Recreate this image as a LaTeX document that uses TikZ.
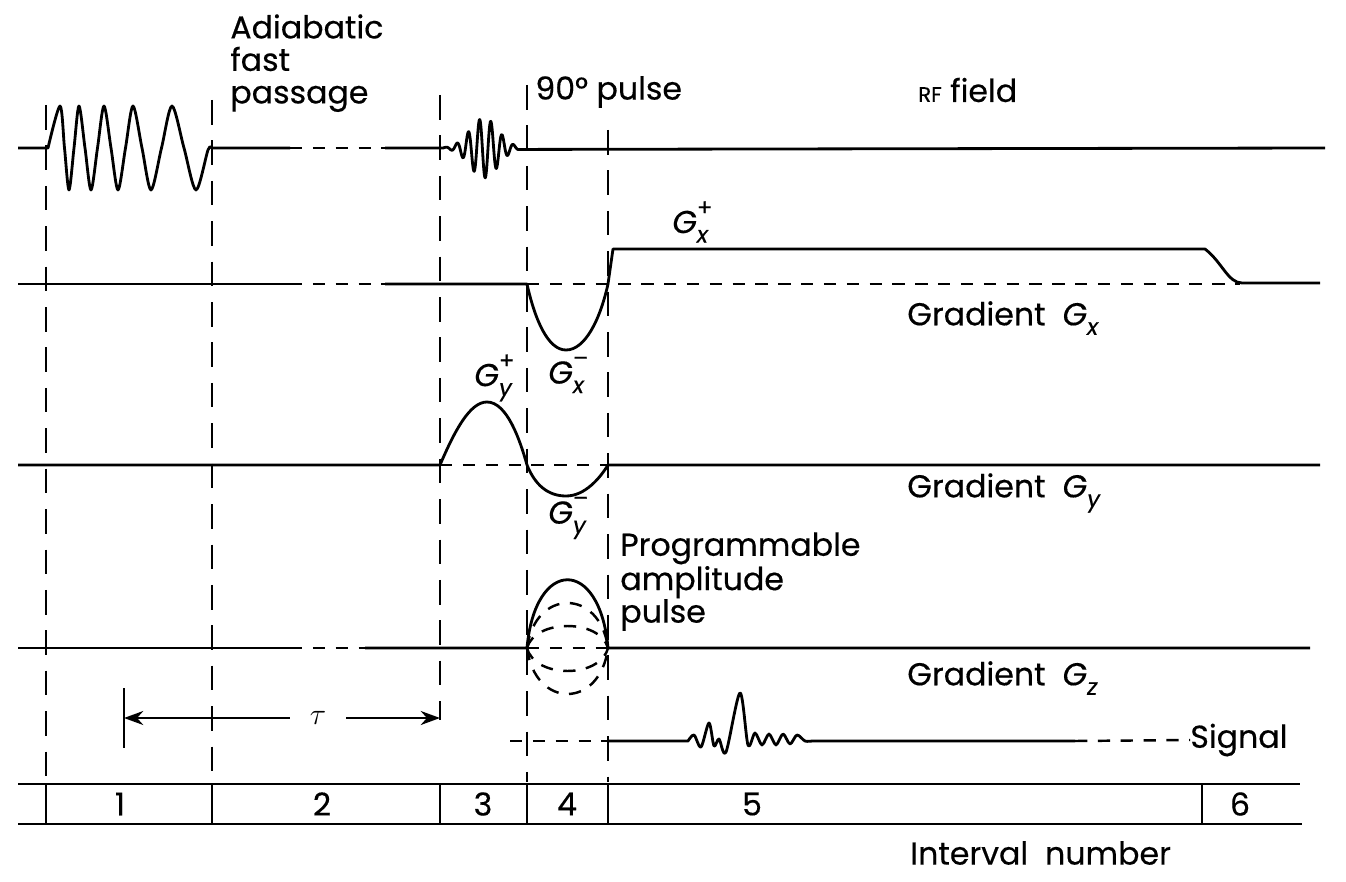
\documentclass[tikz,border=0pt]{standalone}
\usepackage{fontspec}
\setmainfont{Poppins}[FakeBold=0.4]
\usepackage{tikz}
\usetikzlibrary{arrows.meta}
\usetikzlibrary{calc}

\begin{document}
\begin{tikzpicture}[x=0.02cm,y=-0.02cm]
      \newcommand{\gsym}[2]{\textit{G}\makebox[0pt][l]{\raisebox{0.55em}{\fontsize{13}{13}\selectfont #2}}\raisebox{-0.3em}{\fontsize{13}{13}\selectfont\textit{#1}}}
      \tikzstyle{wave}  = [line width=1.6pt, line join=round]
      \tikzstyle{base}  = [line width=1.4pt, dash pattern=on 7pt off 6pt]
      \tikzstyle{guide} = [line width=0.9pt, dash pattern=on 14pt off 9pt]
      \tikzstyle{dedge} = [-{Stealth[length=11pt,width=8pt]}, line width=1.2pt]
      \tikzstyle{txt}   = [inner sep=0pt, anchor=west, font=\fontsize{18}{18.5}\selectfont]
      \tikzstyle{num}   = [inner sep=0pt, font=\fontsize{18}{18.5}\selectfont]

      \useasboundingbox (0,0) rectangle (1346,882);

      \foreach \x/\ya/\yb in {46/105/782, 212/100/782, 440/95/720, 527/85/782, 608/130/782}
        \draw[guide] (\x,\ya) -- (\x,\yb);

      % RF field
      \draw[wave] (18,148) -- (48,148) -- plot[smooth] coordinates {(48,148) (60,106) (64.5,148) (69,190) (74,148) (79,106) (85,148) (91,190) (97.5,148) (104,106) (111,148) (118,190) (125.5,148) (133,106) (142,148) (151,190) (161.5,148) (172,106) (184,148) (196,190) (208,150) (212,148)} -- (290,148);
      \draw[base] (290,148) -- (385,148);
      \draw[wave] (385,148) -- (443,148) -- plot[domain=443:518, samples=150, smooth] (\x, {148 - 30*exp(-((\x-484)/20)*((\x-484)/20))*sin(32*(\x-443))}) -- (1325,148);

      % gradient x
      \draw[wave] (18,284) -- (290,284);
      \draw[base] (290,284) -- (385,284);
      \draw[wave] (385,284) -- (527,284) .. controls (535,320) and (548,350) .. (566,350) .. controls (585,350) and (600,320) .. (608,284) -- (613,249) -- (1205,249) .. controls (1222,262) and (1228,283) .. (1242,283) -- (1320,283);
      \draw[base] (527,284) -- (1240,284);

      % gradient y
      \draw[wave] (18,465) -- (440,465) .. controls (455,430) and (470,402) .. (487,402) .. controls (507,402) and (520,440) .. (527,465) .. controls (535,485) and (548,496) .. (566,496) .. controls (585,496) and (600,478) .. (608,465) -- (1320,465);
      \draw[base] (440,465) -- (608,465);

      % gradient z
      \draw[wave] (18,648) -- (290,648);
      \draw[base] (290,648) -- (365,648);
      \draw[wave] (365,648) -- (527,648) .. controls (535,557) and (600,557) .. (608,648) -- (1310,648);
      \draw[base] (527,648) -- (608,648);
      \foreach \a in {45,22,-23,-46}
        \draw[base] (527,648) .. controls (535,{648-1.333*\a}) and (600,{648-1.333*\a}) .. (608,648);

      % signal
      \node[txt] (sig) at (1190,740) {Signal};
      \draw[base] (510,741) -- (608,741);
      \draw[wave] (608,741) -- (688,741) -- plot[smooth] coordinates {(688,741) (694,735) (701,747) (709,723) (714,746) (719,739) (726,752) (740,693) (748,745) (755,733) (762,745) (769,734) (776,745) (783,734) (790,744) (797,735) (805,741) (812,741)} -- (1075,741);
      \draw[base] (1075,741) -- (sig.west);

      % tau
      \node[minimum width=1.12cm, inner sep=0pt] (tau) at (318,718) {\fontsize{18}{18}\selectfont$\tau$};
      \coordinate (tauL) at (124,718);
      \coordinate (tauR) at (440,718);
      \draw[line width=1.2pt] (124,688) -- (124,748);
      \draw[dedge] (tau) -- (tauL);
      \draw[dedge] (tau) -- (tauR);

      % interval bar
      \draw[line width=1.6pt] (18,784) -- (1300,784);
      \draw[line width=1.6pt] (18,824) -- (1302,824);
      \foreach \x in {46,212,440,527,608,1202}
        \draw[line width=1.6pt] (\x,784) -- (\x,824);
      \foreach \x/\n in {120/1, 322/2, 483/3, 567/4, 752/5, 1240/6}
        \node[num] (int\n) at (\x,804) {\n};

      \node[txt, anchor=north west, align=left] (afp) at (230,14) {Adiabatic\\fast\\passage};
      \node[txt] (ninety) at (535,92) {90° pulse};
      \node[txt] (rf) at (918,90) {{\fontsize{12}{12}\selectfont RF} field};
      \node[txt] (gxp) at (672,222) {\gsym{x}{+}};
      \node[txt] (gxm) at (548,375) {\gsym{x}{--}};
      \node[txt] (gxl) at (907,318) {Gradient \ \gsym{x}{}};
      \node[txt] (gyp) at (474,378) {\gsym{y}{+}};
      \node[txt] (gym) at (548,518) {\gsym{y}{--}};
      \node[txt] (gyl) at (907,493) {Gradient \ \gsym{y}{}};
      \node[txt, anchor=north west, align=left] (prog) at (620,532) {Programmable\\amplitude\\pulse};
      \node[txt] (gzl) at (907,678) {Gradient \ \gsym{z}{}};
      \node[txt] (intl) at (910,853) {Interval\ \ number};
    \end{tikzpicture}
\end{document}
